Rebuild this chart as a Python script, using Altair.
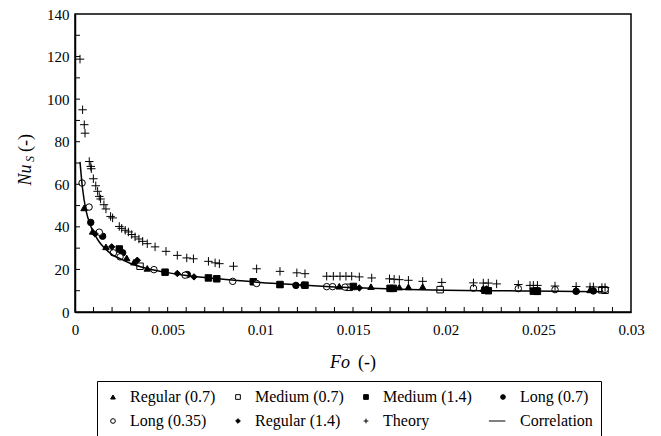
import altair as alt
import pandas as pd

FONT = "Liberation Serif"

series_order = ["Regular (0.7)", "Medium (0.7)", "Medium (1.4)", "Long (0.7)",
                "Long (0.35)", "Regular (1.4)", "Theory", "Correlation"]
shape_range = ["triangle-up", "square", "square", "circle",
               "circle", "diamond", "M-1,0H1M0,-1V1", "M-6,0H1"]
fill_range = ["black", "white", "black", "black", "white", "black", "black", "black"]
stroke_range = ["black"] * 8

reg07_fo = [0.00049, 0.00095, 0.00167, 0.00279, 0.00318, 0.0039, 0.01106, 0.01426,
            0.01597, 0.0175, 0.01799, 0.01876, 0.0197, 0.02203, 0.02704, 0.02779]
reg07_nu = [48.9, 37.9, 30.6, 25.4, 23.4, 20.5, 12.9, 12.1,
            11.9, 11.7, 11.8, 11.9, 11.0, 11.0, 10.5, 10.4]

med07_fo = [0.00351, 0.0148, 0.0197, 0.0249, 0.02843, 0.0286]
med07_nu = [21.5, 11.6, 10.5, 9.9, 10.4, 10.2]

med14_fo = [0.00239, 0.00486, 0.0072, 0.00765, 0.00962, 0.01106, 0.01241, 0.01502,
            0.017, 0.01718, 0.02212, 0.0223, 0.02473, 0.02495]
med14_nu = [29.6, 18.7, 16.0, 15.6, 14.2, 12.9, 12.6, 12.0,
            11.1, 11.1, 10.2, 10.0, 9.8, 9.7]

long07_fo = [0.00085, 0.00149, 0.00257, 0.00606, 0.01192, 0.01235, 0.0222, 0.02704, 0.02797]
long07_nu = [42.1, 35.6, 27.8, 17.6, 12.5, 12.6, 10.3, 9.7, 9.9]

long035_fo = [0.00038, 0.00076, 0.00131, 0.00207, 0.00243, 0.00426, 0.00594, 0.00851,
              0.0098, 0.01358, 0.0139, 0.01457, 0.0215, 0.02392, 0.0259, 0.0286]
long035_nu = [60.6, 49.3, 37.5, 27.8, 25.9, 19.9, 17.3, 14.4,
              13.4, 11.9, 11.9, 11.7, 11.2, 11.0, 10.5, 10.6]

reg14_fo = [0.00108, 0.00198, 0.00336, 0.00552, 0.00642, 0.01534, 0.0222]
reg14_nu = [36.7, 30.6, 24.3, 18.1, 16.5, 11.3, 10.8]

theory_fo = [0.00027, 0.00041, 0.0005, 0.00054, 0.00077, 0.00085, 0.00088, 0.00099,
             0.00112, 0.00122, 0.00131, 0.00138, 0.00156, 0.00167, 0.00192, 0.00203,
             0.00239, 0.00252, 0.00271, 0.00288, 0.00306, 0.00324, 0.00345, 0.00365,
             0.0039, 0.00432, 0.00491, 0.00552, 0.00603, 0.00639, 0.0072, 0.00756,
             0.00779, 0.00855, 0.0098, 0.01106, 0.01197, 0.01241, 0.01358, 0.01394,
             0.0143, 0.01462, 0.01493, 0.01534, 0.01601, 0.01697, 0.01722, 0.0175,
             0.01799, 0.01876, 0.01979, 0.0215, 0.02203, 0.0223, 0.02275, 0.02392,
             0.02455, 0.02473, 0.02495, 0.0259, 0.02704, 0.02779, 0.02797, 0.02843,
             0.0286]
theory_nu = [118.8, 95.0, 88.0, 84.0, 70.7, 68.4, 67.3, 62.6,
             59.3, 56.7, 54.3, 53.1, 50.4, 48.4, 44.9, 44.2,
             40.2, 39.3, 38.4, 37.6, 36.4, 35.3, 34.3, 33.2,
             32.1, 30.6, 28.5, 26.6, 25.4, 25.0, 23.8, 23.1,
             22.7, 21.5, 20.3, 19.1, 18.4, 18.0, 16.8, 16.8,
             16.8, 16.8, 16.8, 16.5, 16.0, 15.6, 15.4, 15.2,
             14.9, 14.4, 13.9, 13.7, 13.6, 13.6, 13.2, 12.9,
             12.5, 12.5, 12.5, 12.2, 12.0, 11.8, 11.8, 11.5,
             11.5]

corr_fo = [0.00027, 0.0004, 0.0006, 0.0008, 0.001, 0.0013, 0.0016, 0.002, 0.0025,
           0.003, 0.004, 0.005, 0.006, 0.007, 0.008, 0.01, 0.012, 0.014, 0.016,
           0.018, 0.02, 0.022, 0.024, 0.026, 0.0285]
corr_nu = [70.5, 58.5, 47.5, 41.5, 37.5, 33.0, 30.0, 27.0, 24.8,
           22.8, 20.2, 18.5, 17.2, 16.2, 15.4, 13.9, 12.8, 11.8, 11.1,
           10.6, 10.2, 10.0, 9.9, 9.7, 9.5]

x_labels = [0, 0.005, 0.01, 0.015, 0.02, 0.025, 0.03]
y_labels = [0, 20, 40, 60, 80, 100, 120, 140]
x_minor = [i / 1000 for i in range(1, 30)]
y_minor = [10 * i for i in range(1, 14)]

rows = []
for name, fo, nu in [("Regular (0.7)", reg07_fo, reg07_nu),
                     ("Medium (0.7)", med07_fo, med07_nu),
                     ("Medium (1.4)", med14_fo, med14_nu),
                     ("Long (0.7)", long07_fo, long07_nu),
                     ("Long (0.35)", long035_fo, long035_nu),
                     ("Regular (1.4)", reg14_fo, reg14_nu)]:
    for a, b in zip(fo, nu):
        rows.append({"Fo": a, "Nu": b, "series": name})
exp_df = pd.DataFrame(rows)
th_df = pd.DataFrame({"Fo": theory_fo, "Nu": theory_nu, "series": "Theory"})
corr_df = pd.DataFrame({"Fo": corr_fo, "Nu": corr_nu})

W, H = 556, 298
xscale = alt.Scale(domain=[0, 0.03], nice=False, zero=False)
yscale = alt.Scale(domain=[0, 140], nice=False)

legend = alt.Legend(title=None, orient="none", legendX=22, legendY=367,
                    columns=4, direction="horizontal",
                    labelFont=FONT, labelFontSize=16, labelColor="black")
shape_enc = alt.Shape("series:N", scale=alt.Scale(domain=series_order, range=shape_range),
                      legend=legend)
fill_enc = alt.Fill("series:N", scale=alt.Scale(domain=series_order, range=fill_range),
                    legend=legend)
stroke_enc = alt.Stroke("series:N", scale=alt.Scale(domain=series_order, range=stroke_range),
                        legend=legend)

x_axis = alt.Axis(values=x_labels, format="~g", ticks=False, grid=False,
                  domainColor="black", domainWidth=1.5, labelFont=FONT,
                  labelFontSize=15, labelColor="black", labelPadding=10,
                  labelFlush=False, title=None)
y_axis = alt.Axis(values=y_labels, ticks=False, grid=False,
                  domainColor="black", domainWidth=1.5, labelFont=FONT,
                  labelFontSize=15, labelColor="black", labelPadding=6,
                  labelFlush=False, title=None)

X = lambda f: alt.X(f, scale=xscale, title=None, axis=x_axis)
Y = lambda f: alt.Y(f, scale=yscale, title=None, axis=y_axis)

exp_pts = alt.Chart(exp_df).mark_point(
    strokeWidth=1, opacity=1, fillOpacity=1, size=42
).encode(x=X("Fo:Q"), y=Y("Nu:Q"), shape=shape_enc, fill=fill_enc, stroke=stroke_enc)

th_pts = alt.Chart(th_df).mark_point(
    strokeWidth=1, opacity=1, fillOpacity=1, size=72
).encode(x=X("Fo:Q"), y=Y("Nu:Q"), shape=shape_enc, fill=fill_enc, stroke=stroke_enc)

corr = alt.Chart(corr_df).mark_line(color="black", strokeWidth=1.5, interpolate="monotone").encode(
    x=X("Fo:Q"), y=Y("Nu:Q"),
)

xt = alt.Chart(pd.DataFrame({"t": x_minor})).mark_rule(color="black", strokeWidth=1).encode(
    x=X("t:Q"), y=alt.value(H), y2=alt.value(H - 5),
)
yt = alt.Chart(pd.DataFrame({"t": y_minor})).mark_rule(color="black", strokeWidth=1).encode(
    y=Y("t:Q"), x=alt.value(0), x2=alt.value(5),
)

one = alt.Data(values=[{}])
def txt(text, x, y, size=18, italic=False, angle=0, align="center"):
    kw = dict(text=text, font=FONT, fontSize=size, color="black", align=align,
              baseline="middle")
    if italic:
        kw["fontStyle"] = "italic"
    if angle:
        kw["angle"] = angle
    return alt.Chart(one).mark_text(**kw).encode(x=alt.value(x), y=alt.value(y))

titles = [
    txt("Fo", 275, 349, italic=True, align="right"),
    txt("(-)", 283, 349, align="left"),
    txt("Nu", -49, 161, italic=True, angle=270),
    txt("S", -45, 145, size=12, italic=True, angle=270),
    txt("(-)", -49, 129, angle=270),
]

chart = alt.layer(exp_pts, th_pts, corr, xt, yt, *titles).properties(
    width=W, height=H, autosize="none",
    padding={"left": 75, "top": 14, "right": 30, "bottom": 124},
).configure_view(stroke="black", strokeWidth=1.5).configure_legend(
    labelOffset=9, symbolSize=22, symbolStrokeWidth=1, columnPadding=14,
    rowPadding=8, padding=8, strokeColor="black", fillColor="white",
)

chart.save("out.html", embed_options={"renderer": "svg", "actions": False})
